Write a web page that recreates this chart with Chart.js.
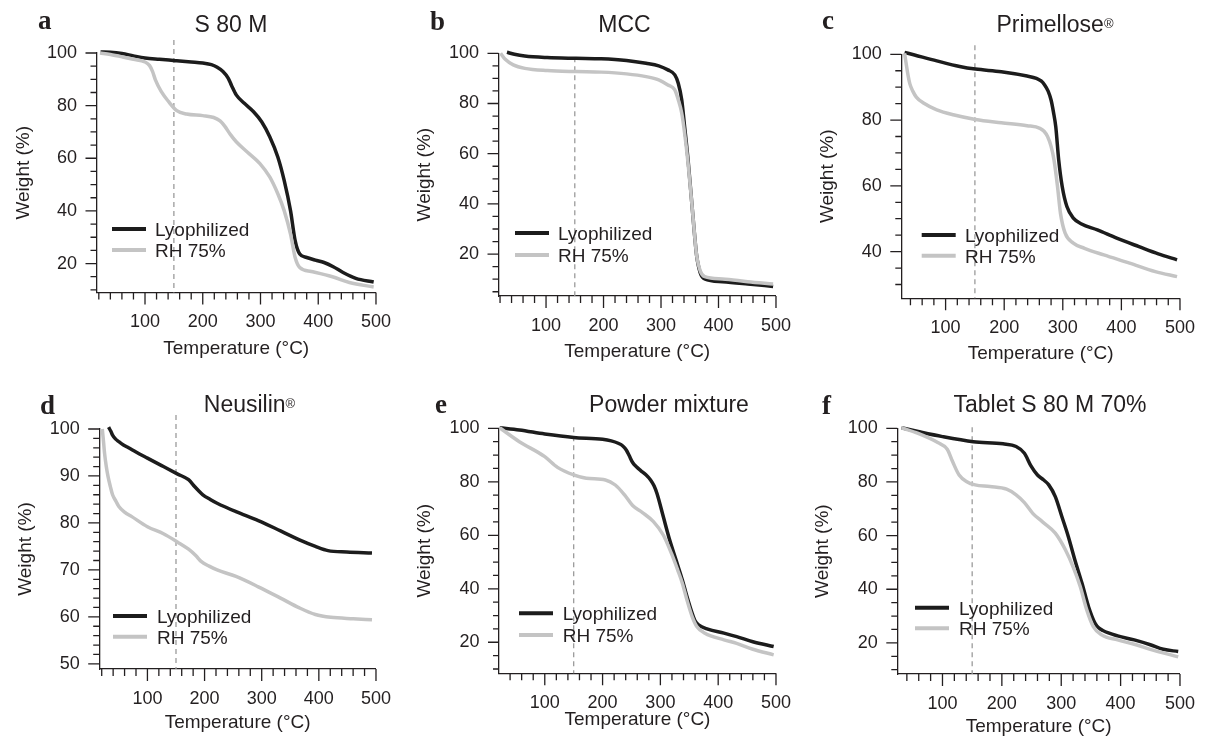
<!DOCTYPE html>
<html><head><meta charset="utf-8">
<script src="https://cdn.jsdelivr.net/npm/chart.js@4.4.1/dist/chart.umd.min.js"></script>
<style>
body{margin:0;background:#fff;width:1214px;height:739px;position:relative;overflow:hidden;font-family:"Liberation Sans",Arial,sans-serif;color:#231f20}
canvas{position:absolute}
.ttl{position:absolute;font-size:23px;line-height:23px;white-space:nowrap;transform:translateX(-50%);z-index:5}
.ltr{position:absolute;font-family:"Liberation Serif","Times New Roman",serif;font-weight:bold;font-size:27px;line-height:27px;z-index:5}
.ttl sup{font-size:13px;vertical-align:top;position:relative;top:-1px}
</style></head>
<body>
<div class="ltr" style="left:38px;top:7px">a</div>
<div class="ltr" style="left:430px;top:8px">b</div>
<div class="ltr" style="left:822px;top:7px">c</div>
<div class="ltr" style="left:40px;top:392px">d</div>
<div class="ltr" style="left:435px;top:391px">e</div>
<div class="ltr" style="left:822px;top:392px">f</div>
<div class="ttl" style="left:231px;top:12.5px">S 80 M</div>
<div class="ttl" style="left:624.5px;top:12.5px">MCC</div>
<div class="ttl" style="left:1055px;top:12.5px">Primellose<sup>®</sup></div>
<div class="ttl" style="left:249.5px;top:392.5px">Neusilin<sup>®</sup></div>
<div class="ttl" style="left:669px;top:392.5px">Powder mixture</div>
<div class="ttl" style="left:1050px;top:392.5px">Tablet S 80 M 70%</div>
<script>
// ---------- data ----------
const seriesNames = ['Lyophilized', 'RH 75%'];
const xTickVals = [100, 200, 300, 400, 500];
const yTicks20 = [20, 40, 60, 80, 100];
const yTicksC = [40, 60, 80, 100];
const yTicksD = [50, 60, 70, 80, 90, 100];

const aLyoT = [23, 40, 60, 80, 100, 125, 153, 180, 200, 215, 225, 235, 244, 250, 258, 272, 288, 302, 316, 330, 341, 352, 360, 368, 380, 395, 410, 426, 443, 465, 496];
const aLyoW = [100.4, 100.3, 99.8, 98.9, 98.1, 97.6, 97.1, 96.6, 96.2, 95.6, 94.6, 93.0, 90.5, 87.6, 84.1, 80.9, 77.7, 73.9, 68.2, 60.5, 51.6, 40.1, 28.7, 23.6, 22.3, 21.3, 20.4, 18.8, 16.6, 14.4, 13.0];
const aRhT = [22, 40, 61, 80, 100, 108, 113, 118, 128, 141, 155, 172, 200, 219, 230, 238, 248, 258, 277, 299, 316, 330, 341, 352, 360, 368, 388, 426, 454, 496];
const aRhW = [100, 99.4, 98.5, 97.6, 96.6, 95.2, 93.0, 89.8, 85.4, 81.5, 78.1, 76.8, 76.2, 75.5, 74.2, 72.2, 69.0, 66.3, 62.4, 58.0, 52.9, 46.5, 40.1, 31.2, 22.3, 18.5, 17.0, 14.9, 12.8, 11.1];

const bLyoT = [32, 45, 63, 102, 152, 196, 240, 274, 296, 312, 324, 330, 336, 341, 347, 353, 358, 362, 368, 376, 407, 451, 495];
const bLyoW = [100.4, 99.6, 98.9, 98.3, 98.0, 97.8, 97.1, 96.0, 95.0, 93.4, 91.4, 88.1, 81.5, 70.9, 57.7, 41.8, 28.6, 19.3, 12.7, 10.1, 9.0, 8.1, 7.1];
const bRhT = [21, 29, 43, 63, 102, 152, 196, 240, 274, 296, 312, 324, 330, 336, 341, 347, 353, 358, 362, 368, 376, 407, 451, 495];
const bRhW = [100, 97.6, 95.4, 94.0, 93.1, 92.7, 92.5, 91.8, 90.7, 89.4, 87.4, 85.4, 81.5, 76.2, 68.3, 56.3, 41.8, 28.6, 19.3, 13.4, 11.0, 10.1, 9.0, 8.1];

const cLyoT = [30, 47, 85, 124, 151, 195, 239, 255, 263, 269, 275, 280, 284, 288, 293, 299, 307, 318, 332, 359, 392, 430, 463, 495];
const cLyoW = [100.6, 99.8, 98.0, 96.3, 95.5, 94.7, 93.4, 92.7, 91.9, 90.7, 88.8, 86.1, 82.5, 78.0, 67.9, 59.8, 53.7, 50.2, 48.4, 46.6, 44.1, 41.5, 39.3, 37.5];
const cRhT = [30, 33, 36, 39, 44, 50, 63, 85, 113, 151, 195, 239, 261, 268, 274, 280, 285, 291, 296, 304, 318, 337, 370, 414, 458, 495];
const cRhW = [100.3, 96.8, 93.5, 91.0, 88.8, 87.0, 85.1, 83.1, 81.6, 80.2, 79.2, 78.3, 77.5, 76.6, 75.0, 72.0, 67.9, 59.8, 51.7, 45.6, 42.6, 41.0, 39.0, 36.5, 33.9, 32.4];

const dLyoT = [32, 36, 39, 44, 50, 58, 67, 80, 100, 128, 153, 172, 183, 190, 197, 210, 222, 255, 294, 333, 366, 394, 416, 449, 493];
const dLyoW = [100.4, 99.5, 98.7, 97.9, 97.3, 96.6, 96.0, 95.1, 93.8, 92.0, 90.4, 89.2, 87.7, 86.8, 86.0, 85.0, 84.2, 82.4, 80.5, 78.3, 76.4, 75.0, 74.1, 73.8, 73.6];
const dRhT = [21, 23, 25, 28, 31, 35, 39, 45, 50, 60, 72, 100, 128, 153, 172, 185, 194, 208, 222, 255, 294, 333, 366, 394, 421, 460, 493];
const dRhW = [100, 97.5, 94.8, 92.0, 89.9, 87.8, 86.0, 84.6, 83.5, 82.3, 81.4, 79.2, 77.7, 75.9, 74.4, 73.0, 71.8, 70.8, 70.0, 68.6, 66.4, 64.0, 61.9, 60.5, 59.9, 59.6, 59.4];

const eLyoT = [22, 56, 100, 150, 200, 215, 227, 235, 241, 246, 252, 259, 266, 275, 283, 289, 294, 305, 316, 327, 338, 346, 355, 360, 366, 382, 410, 432, 460, 496];
const eLyoW = [100.2, 99.4, 97.9, 96.6, 95.9, 95.3, 94.4, 93.4, 91.9, 89.8, 87.2, 85.5, 84.2, 82.6, 80.7, 78.5, 75.7, 67.0, 58.3, 50.8, 43.3, 37.1, 30.8, 28.0, 26.5, 24.9, 23.4, 22.1, 20.2, 18.4];
const eRhT = [22, 56, 100, 122, 150, 172, 205, 222, 238, 252, 269, 288, 305, 319, 330, 338, 346, 355, 363, 377, 410, 432, 460, 496];
const eRhW = [100.2, 95.0, 89.4, 85.4, 82.6, 81.3, 80.7, 78.8, 75.1, 71.1, 68.5, 65.1, 60.1, 53.3, 47.0, 42.1, 35.8, 29.6, 25.9, 23.4, 20.9, 19.6, 17.4, 15.3];

const fLyoT = [31, 59, 100, 152, 202, 224, 238, 249, 260, 270, 279, 290, 301, 312, 323, 335, 346, 357, 363, 370, 395, 423, 450, 472, 497];
const fLyoW = [100.2, 98.8, 96.9, 95.0, 94.2, 93.2, 90.7, 86.0, 82.6, 80.8, 78.9, 74.5, 67.1, 59.6, 50.9, 42.2, 33.5, 27.3, 25.6, 24.6, 22.6, 21.1, 19.3, 17.6, 16.8];
const fRhT = [31, 59, 92, 108, 117, 128, 141, 155, 180, 208, 224, 238, 252, 268, 290, 307, 321, 332, 343, 354, 368, 395, 423, 450, 497];
const fRhW = [100.2, 98.1, 94.7, 92.2, 87.6, 82.6, 80.1, 78.9, 78.3, 77.3, 75.2, 72.3, 68.3, 65.2, 60.9, 54.7, 47.8, 41.0, 32.3, 26.1, 23.0, 21.1, 19.5, 17.6, 14.8];

// ---------- layout / style ----------
const ink = '#231f20';
const lineColors = ['#1c1c1c', '#c4c4c4'];
const FAM = '"Liberation Sans", Arial, sans-serif';

const panels = [
  {box:[0,0,410,370], area:[96.5,53,388,292.5], xMin:16, yMin:9, yTicks:yTicks20, yMinor:5, yMajor:20, xt:9.4, yt:12.3, dashTop:-13, leg:{x:15.5,y:176,tx:58.5,dy:21}, s:[[aLyoT,aLyoW],[aRhT,aRhW]]},
  {box:[400,0,410,370], area:[498.5,53.3,789.3,296], xMin:17.3, yMin:3.3, yTicks:yTicks20, yMinor:5, yMajor:20, xt:6.9, yt:13.8, dashTop:4, leg:{x:16.5,y:179.7,tx:59.5,dy:22}, s:[[bLyoT,bLyoW],[bRhT,bRhW]]},
  {box:[805,0,409,370], area:[901.3,54.3,1190.7,298.3], xMin:24.4, yMin:25.8, yTicks:yTicksC, yMinor:5, yMajor:20, xt:4.9, yt:11.5, dashTop:-9, leg:{x:20.4,y:180.7,tx:63.7,dy:20.7}, s:[[cLyoT,cLyoW],[cRhT,cRhW]]},
  {box:[0,372,410,367], area:[99.2,429,390.7,669], xMin:15.6, yMin:48.9, yTicks:yTicksD, yMinor:2, yMajor:10, xt:4.4, yt:14.5, dashTop:-14, leg:{x:13.8,y:187,tx:57.8,dy:20.7}, s:[[dLyoT,dLyoW],[dRhT,dRhW]]},
  {box:[400,372,410,367], area:[499,428.3,787.7,673.3], xMin:20.8, yMin:8.4, yTicks:yTicks20, yMinor:5, yMajor:20, xt:7.4, yt:13, dashTop:-1, leg:{x:20,y:185,tx:63.7,dy:21.7}, s:[[eLyoT,eLyoW],[eRhT,eRhW]]},
  {box:[805,372,409,367], area:[897.3,428.3,1185,674], xMin:23.9, yMin:8.4, yTicks:yTicks20, yMinor:5, yMajor:20, xt:0.6, yt:6.5, dashTop:-1, leg:{x:17.7,y:179.4,tx:61.7,dy:20.6}, s:[[fLyoT,fLyoW],[fRhT,fRhW]]}
];

const decor = {
  id: 'decor',
  beforeDatasetsDraw(chart, args, o) {
    const {ctx, chartArea: ca, scales: {x}} = chart;
    const px = x.getPixelForValue(150);
    ctx.save();
    ctx.strokeStyle = '#9b9b9b'; ctx.lineWidth = 1.3; ctx.setLineDash([5, 4]);
    ctx.beginPath(); ctx.moveTo(px, ca.top + o.dashTop); ctx.lineTo(px, ca.bottom); ctx.stroke();
    ctx.restore();
  },
  afterDraw(chart, args, o) {
    const {ctx, chartArea: ca, scales: {x, y}} = chart;
    ctx.save();
    ctx.strokeStyle = ink; ctx.lineWidth = 1.3;
    ctx.beginPath();
    for (let v = Math.ceil(x.min / 20) * 20; v <= x.max + 1e-6; v += 20) {
      const p = x.getPixelForValue(v);
      const len = (v % 100 === 0) ? 12 : 7;
      ctx.moveTo(p, ca.bottom); ctx.lineTo(p, ca.bottom + len);
    }
    for (let v = Math.ceil(y.min / o.yMinor) * o.yMinor; v <= y.max + 1e-6; v += o.yMinor) {
      const p = y.getPixelForValue(v);
      const len = (Math.abs(v % o.yMajor) < 1e-6) ? 11 : 6;
      ctx.moveTo(ca.left, p); ctx.lineTo(ca.left - len, p);
    }
    ctx.stroke();
    // legend
    chart.data.datasets.forEach((ds, i) => {
      const ry = ca.top + o.leg.y + i * o.leg.dy;
      ctx.strokeStyle = ds.borderColor; ctx.lineWidth = 4;
      ctx.beginPath(); ctx.moveTo(ca.left + o.leg.x, ry); ctx.lineTo(ca.left + o.leg.x + 34, ry); ctx.stroke();
      ctx.fillStyle = ink; ctx.font = '19px ' + FAM; ctx.textBaseline = 'alphabetic'; ctx.textAlign = 'left';
      ctx.fillText(ds.label, ca.left + o.leg.tx, ry + 6.8);
    });
    ctx.restore();
  }
};

panels.forEach(p => {
  const [bl, bt, bw, bh] = p.box;
  const [L, T, R, B] = p.area;
  const cv = document.createElement('canvas');
  cv.width = bw; cv.height = bh;
  cv.style.left = bl + 'px'; cv.style.top = bt + 'px';
  cv.style.width = bw + 'px'; cv.style.height = bh + 'px';
  document.body.appendChild(cv);
  const datasets = p.s.map((s, i) => ({
    label: seriesNames[i],
    data: s[0].map((t, k) => ({x: t, y: s[1][k]})),
    borderColor: lineColors[i],
    borderWidth: 3.5,
    pointRadius: 0,
    fill: false,
    cubicInterpolationMode: 'monotone',
    clip: false,
    order: i === 0 ? 1 : 0
  }));
  new Chart(cv, {
    type: 'line',
    data: {datasets},
    plugins: [decor],
    options: {
      responsive: false, animation: false, devicePixelRatio: 1, events: [],
      layout: {padding: {left: 0, top: T - bt, right: (bl + bw) - R, bottom: 0}},
      plugins: {legend: {display: false}, tooltip: {enabled: false},
        decor: {dashTop: p.dashTop, yMinor: p.yMinor, yMajor: p.yMajor, leg: p.leg}},
      scales: {
        x: {
          type: 'linear', min: p.xMin, max: 500,
          afterBuildTicks: s => { s.ticks = xTickVals.map(v => ({value: v})); },
          afterFit: s => { s.height = (bt + bh) - B; },
          grid: {display: false, drawTicks: false},
          border: {display: true, color: ink, width: 1.3},
          ticks: {font: {size: 18, family: FAM}, color: ink, padding: 19, maxRotation: 0, autoSkip: false},
          title: {display: true, text: 'Temperature (°C)', color: ink, font: {size: 19, family: FAM}, padding: {top: 0, bottom: p.xt}}
        },
        y: {
          type: 'linear', min: p.yMin, max: 100,
          afterBuildTicks: s => { s.ticks = p.yTicks.map(v => ({value: v})); },
          afterFit: s => { s.width = L - bl; },
          grid: {display: false, drawTicks: false},
          border: {display: true, color: ink, width: 1.3},
          ticks: {font: {size: 18, family: FAM}, color: ink, padding: 19.5, autoSkip: false},
          title: {display: true, text: 'Weight (%)', color: ink, font: {size: 19, family: FAM}, padding: {top: p.yt, bottom: 0}}
        }
      }
    }
  });
});
</script>
</body></html>
